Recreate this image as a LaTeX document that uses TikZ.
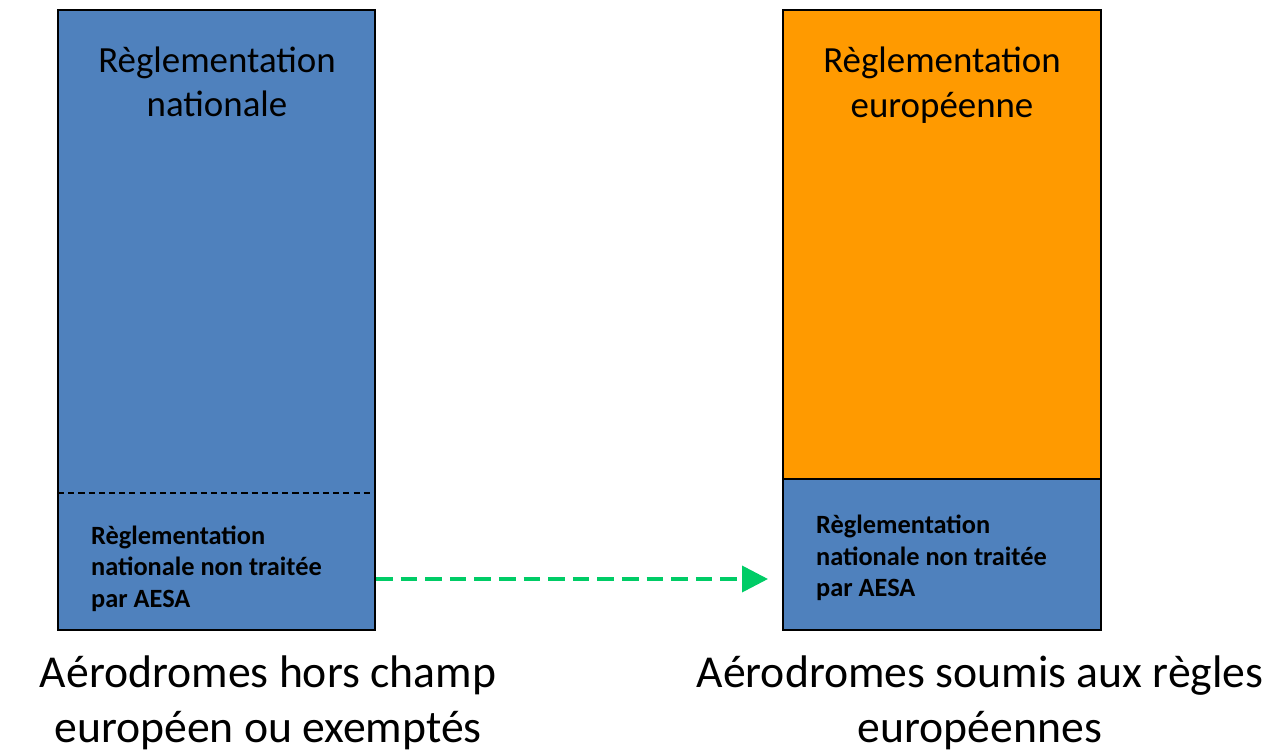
\documentclass[tikz,border=0pt]{standalone}
\usepackage{fontspec}
\setmainfont{Carlito}
\usetikzlibrary{arrows.meta}
\definecolor{regblue}{RGB}{79,129,189}
\definecolor{regorange}{RGB}{255,154,0}
\definecolor{flowgreen}{RGB}{0,204,102}
\tikzset{
  titre/.style={align=center,font=\fontsize{21}{25.4}\selectfont},
  note/.style={align=left,font=\fontsize{15}{18}\selectfont\bfseries},
  legende/.style={align=center,font=\fontsize{26}{31}\selectfont},
  flow/.style={flowgreen,line width=2.1pt,dash pattern=on 9.5pt off 4.5pt,
    -{Triangle[length=14.7pt,width=14.7pt]}}
}
\begin{document}
\begin{tikzpicture}[x=0.02cm,y=-0.02cm]
    \useasboundingbox (0,0) rectangle (1286,753);
    \begin{scope}
      % left column
      \draw[fill=regblue,line width=1.2pt] (58,10) rectangle (375,630);
      \draw[dash pattern=on 3.5pt off 2.3pt,line width=0.8pt] (58,493) -- (375,493);
      \node[titre] (natTitle) at (217,82) {Règlementation\\nationale};
      \node[note,anchor=west] (natL) at (85,568.5) {Règlementation\\nationale non traitée\\par AESA};
      \node[legende] (horsChamp) at (268,703) {Aérodromes hors champ\\européen ou exemptés};
      % right column
      \draw[fill=regorange,line width=1.2pt] (783,10) rectangle (1101,479);
      \draw[fill=regblue,line width=1.2pt] (783,479) rectangle (1101,630);
      \node[titre] (euTitle) at (942,85) {Règlementation\\européenne};
      \node[note,anchor=west] (natR) at (810,558) {Règlementation\\nationale non traitée\\par AESA};
      \node[legende] (soumis) at (980,703) {Aérodromes soumis aux règles\\européennes};
      % link
      \coordinate (fromL) at (376,579);
      \coordinate (toR) at (768,579);
      \draw[flow] (fromL) -- (toR);
    \end{scope}
  \end{tikzpicture}
\end{document}
